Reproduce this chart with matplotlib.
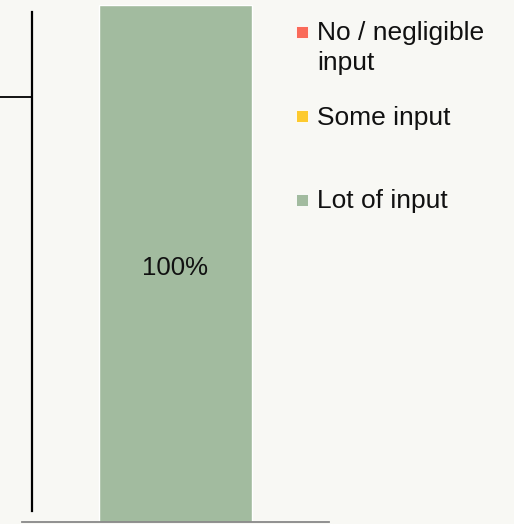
import matplotlib
matplotlib.use("Agg")
import matplotlib.pyplot as plt
from matplotlib.lines import Line2D
from matplotlib.patches import Rectangle

# data
categories = [""]
no_input = [0]
some_input = [0]
lot_input = [100]
legend_labels = ["No / negligible\ninput", "Some input", "Lot of input"]
colors = ["#fa6a59", "#fdca2e", "#a2bb9f"]

BG = "#f8f8f4"
plt.rcParams["font.family"] = ["Liberation Sans", "DejaVu Sans"]

W, H = 514, 524
fig = plt.figure(figsize=(W / 100, H / 100), dpi=100, facecolor=BG)

# axes placed so bar spans from baseline to near top
ax = fig.add_axes([22 / W, 2 / H, 307 / W, 517 / H])
ax.set_facecolor(BG)
ax.patch.set_alpha(0)

bw = 0.5
x = range(len(categories))
ax.bar(x, no_input, width=bw, color=colors[0], edgecolor="white", linewidth=1)
ax.bar(x, some_input, bottom=no_input, width=bw, color=colors[1],
       edgecolor="white", linewidth=1)
bottoms = [a + b for a, b in zip(no_input, some_input)]
ax.bar(x, lot_input, bottom=bottoms, width=bw, color=colors[2],
       edgecolor="white", linewidth=1)

for i, v in enumerate(lot_input):
    ax.text(i, bottoms[i] + v / 2 - 0.8, f"{v}%", ha="center", va="center",
            fontsize=18.5, color="#111111")

ax.set_xlim(-0.5, 0.5)
ax.set_ylim(0, 100)
ax.set_xticks([])
ax.set_yticks([])
for s in ["top", "right", "left"]:
    ax.spines[s].set_visible(False)
ax.spines["bottom"].set_color("#888888")
ax.spines["bottom"].set_linewidth(1.3)

# bracket line on the left
fig.add_artist(Line2D([32 / W, 32 / W], [1 - 12 / H, 1 - 511 / H],
                      color="black", lw=1.6, transform=fig.transFigure))
fig.add_artist(Line2D([0, 32 / W], [1 - 97 / H, 1 - 97 / H],
                      color="black", lw=1.3, transform=fig.transFigure))

# legend
sq_y = [32, 116, 200]
txt_top = [21, 106, 189]
for lab, c, yy, ty in zip(legend_labels, colors, sq_y, txt_top):
    fig.add_artist(Rectangle((296 / W, 1 - (yy + 6) / H), 12 / W, 12 / H,
                             facecolor=c, edgecolor="white", lw=0.6,
                             transform=fig.transFigure))
    fig.text(317 / W, 1 - ty / H, lab, ha="left", va="top",
             fontsize=19, linespacing=1.32, color="#111111")

fig.savefig("out.png", dpi=100, facecolor=BG)
